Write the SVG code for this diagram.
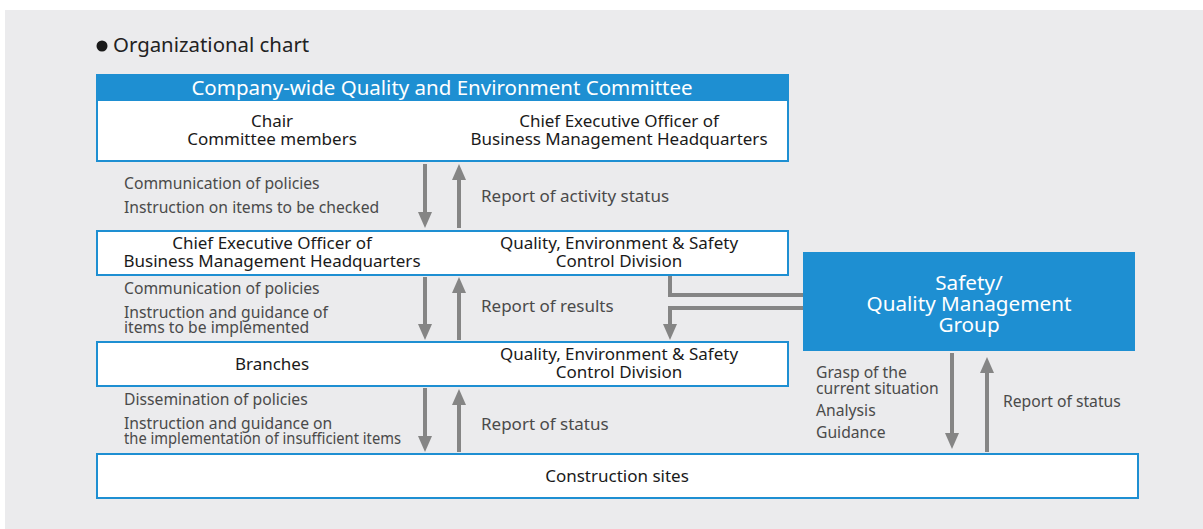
<svg xmlns="http://www.w3.org/2000/svg" width="1203" height="529" viewBox="0 0 1203 529">
<defs>
<style>
text{font-family:"Noto Sans","Liberation Sans",sans-serif;}
.box{fill:#fff;stroke:#1e8fd2;stroke-width:2;}
.bt{font-size:17px;fill:#1a1a1a;text-anchor:middle;}
.lb{font-size:15.7px;fill:#4a4a4a;}
.rp{font-size:17px;fill:#4a4a4a;}
.wt{font-size:20.7px;fill:#fff;text-anchor:middle;}
.ln{stroke:#858585;stroke-width:4;fill:none;}
</style>
<marker id="ah" viewBox="0 0 16 14" refX="3" refY="7" markerWidth="16" markerHeight="14" markerUnits="userSpaceOnUse" orient="auto">
<path d="M0,0 L16,7 L0,14 Z" fill="#858585"/>
</marker>
</defs>
<rect x="5" y="10" width="1198" height="519" fill="#ebebed"/>
<g id="title">
<circle cx="102" cy="46" r="5.5" fill="#1a1a1a"/>
<text x="113" y="52" style="font-size:20.4px;fill:#222;">Organizational chart</text>
</g>
<g id="connectors">
<line class="ln" x1="425" y1="164" x2="425" y2="215" marker-end="url(#ah)"/>
<line class="ln" x1="459" y1="228" x2="459" y2="177" marker-end="url(#ah)"/>
<line class="ln" x1="425" y1="277" x2="425" y2="327" marker-end="url(#ah)"/>
<line class="ln" x1="459" y1="340" x2="459" y2="290" marker-end="url(#ah)"/>
<line class="ln" x1="425" y1="388" x2="425" y2="439" marker-end="url(#ah)"/>
<line class="ln" x1="459" y1="452" x2="459" y2="402" marker-end="url(#ah)"/>
<polyline class="ln" points="670,276 670,295 804,295"/>
<polyline class="ln" points="804,308 670,308 670,327" marker-end="url(#ah)"/>
<line class="ln" x1="952" y1="353" x2="952" y2="436" marker-end="url(#ah)"/>
<line class="ln" x1="987" y1="452" x2="987" y2="370" marker-end="url(#ah)"/>
</g>
<g id="committee">
<rect class="box" x="97" y="75" width="691" height="86"/>
<rect x="96" y="74" width="693" height="27" fill="#1e8fd2"/>
<text x="442" y="95" style="font-size:20.5px;fill:#fff;text-anchor:middle;">Company-wide Quality and Environment Committee</text>
<text class="bt" x="272" y="127">Chair</text>
<text class="bt" x="272" y="145">Committee members</text>
<text class="bt" x="619" y="127">Chief Executive Officer of</text>
<text class="bt" x="619" y="145">Business Management Headquarters</text>
</g>
<g id="labels1">
<text class="lb" x="124" y="189">Communication of policies</text>
<text class="lb" x="124" y="213">Instruction on items to be checked</text>
<text class="rp" x="481" y="202">Report of activity status</text>
</g>
<g id="ceo">
<rect class="box" x="97" y="231" width="691" height="44"/>
<text class="bt" x="272" y="249">Chief Executive Officer of</text>
<text class="bt" x="272" y="267">Business Management Headquarters</text>
<text class="bt" x="619" y="249">Quality, Environment &amp; Safety</text>
<text class="bt" x="619" y="267">Control Division</text>
</g>
<g id="labels2">
<text class="lb" x="124" y="294">Communication of policies</text>
<text class="lb" x="124" y="318">Instruction and guidance of</text>
<text class="lb" x="124" y="333">items to be implemented</text>
<text class="rp" x="481" y="312">Report of results</text>
</g>
<g id="branches">
<rect class="box" x="97" y="342" width="691" height="44"/>
<text class="bt" x="272" y="370">Branches</text>
<text class="bt" x="619" y="360">Quality, Environment &amp; Safety</text>
<text class="bt" x="619" y="378">Control Division</text>
</g>
<g id="labels3">
<text class="lb" x="124" y="405">Dissemination of policies</text>
<text class="lb" x="124" y="429">Instruction and guidance on</text>
<text class="lb" x="124" y="444" textLength="277" lengthAdjust="spacingAndGlyphs">the implementation of insufficient items</text>
<text class="rp" x="481" y="430">Report of status</text>
</g>
<g id="safety">
<rect x="803" y="252" width="332" height="99" fill="#1e8fd2"/>
<text class="wt" x="969" y="290">Safety/</text>
<text class="wt" x="969" y="311">Quality Management</text>
<text class="wt" x="969" y="332">Group</text>
</g>
<g id="labels4">
<text class="lb" x="816" y="378">Grasp of the</text>
<text class="lb" x="816" y="394">current situation</text>
<text class="lb" x="816" y="416">Analysis</text>
<text class="lb" x="816" y="438">Guidance</text>
<text class="lb" x="1003" y="407">Report of status</text>
</g>
<g id="sites">
<rect class="box" x="97" y="454" width="1041" height="44"/>
<text class="bt" x="617" y="482">Construction sites</text>
</g>
</svg>
